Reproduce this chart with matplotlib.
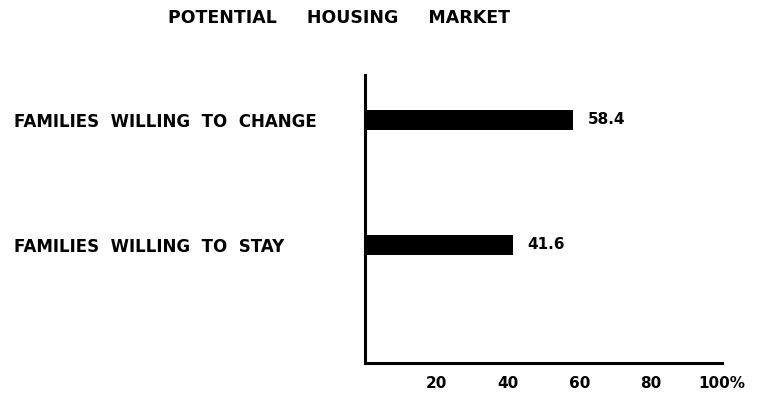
import matplotlib
matplotlib.use("Agg")
import matplotlib.pyplot as plt

# Share of families by willingness to move (%)
categories = ["FAMILIES  WILLING  TO  STAY", "FAMILIES  WILLING  TO  CHANGE"]
values = [41.6, 58.4]
value_labels = ["41.6", "58.4"]
tick_values = [20, 40, 60, 80, 100]
tick_labels = ["20", "40", "60", "80", "100%"]
title = "POTENTIAL     HOUSING     MARKET"

plt.rcParams["font.family"] = ["DejaVu Sans"]
plt.rcParams["font.weight"] = "bold"

fig = plt.figure(figsize=(7.58, 3.93), dpi=100)
ax = fig.add_axes([0.4815, 0.0763, 0.4710, 0.7330])

ypos = [1, 2]
ax.barh(ypos, values, height=0.16, color="black")

for y, v, lab in zip(ypos, values, value_labels):
    ax.text(v + 4.0, y, lab, va="center", ha="left",
            fontsize=11, fontweight="bold")

ax.set_xlim(0, 100)
ax.set_ylim(0.056, 2.36)

# only the left and bottom axis lines, drawn heavy
for side in ("top", "right"):
    ax.spines[side].set_visible(False)
for side in ("left", "bottom"):
    ax.spines[side].set_linewidth(2.2)

ax.set_xticks(tick_values)
ax.set_xticklabels(tick_labels, fontsize=11, fontweight="bold")
ax.tick_params(axis="x", length=0, pad=9)

ax.set_yticks(ypos)
ax.set_yticklabels(categories, fontsize=12, fontweight="bold")
ax.tick_params(axis="y", length=0, pad=253)
for t in ax.get_yticklabels():
    t.set_horizontalalignment("left")

fig.text(0.4475, 0.955, title, ha="center", va="center",
         fontsize=12.5, fontweight="bold")

fig.savefig("out.png", dpi=100)
